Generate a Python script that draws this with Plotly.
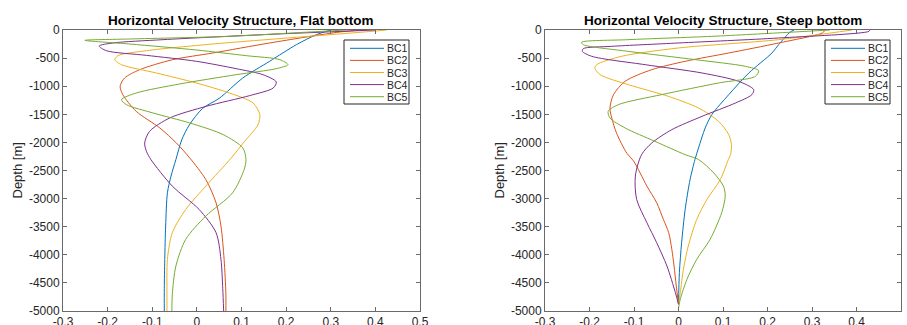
import plotly.graph_objects as go

# ---- mode names, colours, tick labels ----
mode_names = ["BC1", "BC2", "BC3", "BC4", "BC5"]
mode_colors = ["#0072BD", "#D95319", "#EDB120", "#7E2F8E", "#77AC30"]

x_tick_vals = [-0.3, -0.2, -0.1, 0, 0.1, 0.2, 0.3, 0.4, 0.5]
x_tick_text = ["-0.3", "-0.2", "-0.1", "0", "0.1", "0.2", "0.3", "0.4", "0.5"]
y_tick_vals = [0, -500, -1000, -1500, -2000, -2500, -3000, -3500, -4000, -4500, -5000]
y_tick_text = ["0", "-500", "-1000", "-1500", "-2000", "-2500", "-3000", "-3500", "-4000", "-4500", "-5000"]

panel_titles = ["Horizontal Velocity Structure, Flat bottom",
                "Horizontal Velocity Structure, Steep bottom"]

# ---- flat bottom: horizontal velocity u and depth z (m) ----
flat_u1 = [0.30, 0.268, 0.223, 0.163, 0.103, 0.05, 0.013, -0.017, -0.034, -0.047, -0.058, -0.066, -0.070, -0.072, -0.073, -0.073]
flat_z1 = [0, -83, -261, -557, -854, -1216, -1394, -1690, -1957, -2305, -2601, -2897, -3490, -4083, -4600, -5000]

flat_u2 = [0.37, 0.32, 0.163, 0.036, -0.054, -0.128, -0.162, -0.172, -0.166, -0.136, -0.083, -0.046, -0.016, 0.020, 0.043, 0.054, 0.061, 0.065, 0.065]
flat_z2 = [0, -36, -231, -409, -528, -706, -854, -1002, -1150, -1447, -1743, -2010, -2277, -2660, -3074, -3489, -4081, -4700, -5000]

flat_u3 = [0.425, 0.39, 0.223, 0.036, -0.113, -0.177, -0.184, -0.169, -0.091, -0.001, 0.073, 0.126, 0.141, 0.137, 0.107, 0.077, 0.020, -0.025, -0.055, -0.066, -0.067, -0.067]
flat_z3 = [0, -25, -130, -249, -368, -457, -528, -617, -765, -943, -1121, -1299, -1506, -1684, -1981, -2277, -2778, -3193, -3607, -4081, -4700, -5000]

flat_u4 = [0.40, 0.148, -0.076, -0.188, -0.219, -0.203, -0.113, -0.001, 0.088, 0.148, 0.178, 0.171, 0.118, 0.021, -0.061, -0.106, -0.117, -0.113, -0.103, -0.055, 0.005, 0.043, 0.054, 0.058, 0.060]
flat_z4 = [0, -83, -172, -231, -285, -368, -451, -557, -688, -795, -925, -1032, -1168, -1358, -1566, -1803, -2010, -2159, -2305, -2778, -3193, -3607, -4081, -4600, -5000]

flat_u5 = [0.335, 0.22, 0.073, -0.151, -0.251, -0.151, -0.001, 0.111, 0.186, 0.204, 0.178, 0.088, -0.039, -0.136, -0.169, -0.158, -0.098, -0.016, 0.059, 0.103, 0.110, 0.106, 0.080, 0.020, -0.025, -0.047, -0.055, -0.056]
flat_z5 = [0, -50, -113, -160, -184, -249, -356, -457, -528, -617, -688, -795, -961, -1121, -1239, -1328, -1477, -1654, -1862, -2099, -2305, -2482, -2897, -3311, -3725, -4199, -4700, -5000]

# ---- steep bottom: horizontal velocity u and depth z (m) ----
steep_u1 = [0.26, 0.251, 0.225, 0.21, 0.158, 0.113, 0.075, 0.06, 0.045, 0.037, 0.026, 0.015, 0.007, 0.002, 0.0]
steep_z1 = [0, -36, -261, -409, -765, -1150, -1506, -1743, -2099, -2305, -2660, -3193, -3785, -4317, -4880]

steep_u2 = [0.33, 0.323, 0.225, 0.113, 0.015, -0.06, -0.12, -0.146, -0.154, -0.150, -0.139, -0.116, -0.101, -0.071, -0.049, -0.034, -0.022, -0.015, -0.010, -0.005, 0.0]
steep_z2 = [0, -53, -231, -409, -557, -706, -913, -1150, -1388, -1566, -1838, -2194, -2330, -2778, -3074, -3370, -3607, -3903, -4199, -4554, -4880]

steep_u3 = [0.39, 0.225, 0.0, -0.128, -0.184, -0.188, -0.176, -0.113, -0.023, 0.045, 0.09, 0.113, 0.119, 0.117, 0.112, 0.094, 0.064, 0.041, 0.022, 0.011, 0.004, 0.0]
steep_z3 = [0, -172, -320, -468, -617, -676, -795, -972, -1180, -1388, -1625, -1862, -2040, -2218, -2305, -2660, -3015, -3370, -3844, -4258, -4673, -4880]

steep_u4 = [0.43, 0.428, 0.225, 0.0, -0.15, -0.214, -0.216, -0.195, -0.075, 0.053, 0.135, 0.169, 0.165, 0.128, 0.053, -0.015, -0.06, -0.083, -0.097, -0.094, -0.071, -0.049, -0.026, -0.007, 0.0]
steep_z4 = [0, -24, -142, -231, -291, -332, -380, -468, -617, -765, -913, -1061, -1150, -1299, -1536, -1773, -2010, -2218, -2600, -3015, -3429, -3785, -4199, -4673, -4880]

steep_u5 = [0.34, 0.25, 0.075, -0.113, -0.218, -0.214, -0.113, 0.038, 0.150, 0.18, 0.173, 0.09, -0.038, -0.135, -0.158, -0.154, -0.12, -0.053, 0.015, 0.045, 0.079, 0.101, 0.105, 0.097, 0.071, 0.041, 0.019, 0.004, 0.0]
steep_z5 = [0, -40, -113, -172, -219, -261, -380, -528, -646, -723, -824, -943, -1150, -1328, -1447, -1566, -1743, -1981, -2218, -2305, -2541, -2778, -2956, -3252, -3725, -4081, -4436, -4791, -4950]

flat_modes = [(flat_u1, flat_z1), (flat_u2, flat_z2), (flat_u3, flat_z3), (flat_u4, flat_z4), (flat_u5, flat_z5)]
steep_modes = [(steep_u1, steep_z1), (steep_u2, steep_z2), (steep_u3, steep_z3), (steep_u4, steep_z4), (steep_u5, steep_z5)]

# ---- page geometry (pixels) ----
W, H = 907, 325
FONT = "Liberation Sans, Arial, Helvetica, sans-serif"
TEXT_COLOR = "#262626"
AXIS_COLOR = "#6a6a6a"


def px(x):
    return x / W


def py(y):
    return 1 - y / H


# left / right plot boxes: (x0, x1) in pixels, shared vertical extent
boxes = [(63, 420), (545, 901)]
box_top, box_bottom = 30, 311

fig = go.Figure()

for k, modes in enumerate([flat_modes, steep_modes]):
    xa = "x" if k == 0 else "x2"
    ya = "y" if k == 0 else "y2"
    for (u, z), name, color in zip(modes, mode_names, mode_colors):
        fig.add_trace(go.Scatter(
            x=u, y=z, mode="lines", name=name, showlegend=False,
            line=dict(color=color, width=1, shape="spline", smoothing=0.8),
            xaxis=xa, yaxis=ya,
        ))

axis_common = dict(
    showline=True, mirror="ticks", linecolor=AXIS_COLOR, linewidth=1,
    ticks="inside", ticklen=4, tickcolor=AXIS_COLOR, tickwidth=1,
    showgrid=False, zeroline=False,
    tickfont=dict(family=FONT, size=12, color=TEXT_COLOR),
)

layout_axes = {}
for k, (bx0, bx1) in enumerate(boxes):
    sfx = "" if k == 0 else "2"
    layout_axes["xaxis" + sfx] = dict(
        axis_common, domain=[px(bx0), px(bx1)], range=[-0.3, 0.5],
        tickvals=x_tick_vals, ticktext=x_tick_text, anchor="y" + sfx,
    )
    layout_axes["yaxis" + sfx] = dict(
        axis_common, domain=[py(box_bottom), py(box_top)], range=[-5000, 0],
        tickvals=y_tick_vals, ticktext=y_tick_text, anchor="x" + sfx,
    )

annotations = []
shapes = []
for k, (bx0, bx1) in enumerate(boxes):
    # panel title
    annotations.append(dict(
        text=panel_titles[k], xref="paper", yref="paper",
        x=px((bx0 + bx1) / 2), y=py(20), xanchor="center", yanchor="middle",
        showarrow=False, font=dict(family=FONT, size=13.5, color="#000000", weight="bold"),
    ))
    # depth label
    annotations.append(dict(
        text="Depth [m]", xref="paper", yref="paper",
        x=px(bx0 - 46), y=py((box_top + box_bottom) / 2), textangle=-90,
        xanchor="center", yanchor="middle", showarrow=False,
        font=dict(family=FONT, size=13, color=TEXT_COLOR),
    ))
    # legend box
    lx0 = bx1 - 76
    lx1 = bx1 - 11
    ly0, ly1 = 40, 104
    shapes.append(dict(
        type="rect", xref="paper", yref="paper",
        x0=px(lx0), x1=px(lx1), y0=py(ly1), y1=py(ly0),
        line=dict(color="#262626", width=1), fillcolor="white", layer="above",
    ))
    for i, (name, color) in enumerate(zip(mode_names, mode_colors)):
        row_y = 48.3 + i * 12.1
        shapes.append(dict(
            type="line", xref="paper", yref="paper",
            x0=px(lx0 + 6), x1=px(lx0 + 40), y0=py(row_y), y1=py(row_y),
            line=dict(color=color, width=1), layer="above",
        ))
        annotations.append(dict(
            text=name, xref="paper", yref="paper",
            x=px(lx0 + 42), y=py(row_y), xanchor="left", yanchor="middle",
            showarrow=False, borderpad=0,
            font=dict(family=FONT, size=10.5, color=TEXT_COLOR),
        ))

fig.update_layout(
    width=W, height=H,
    margin=dict(l=0, r=0, t=0, b=0, autoexpand=False),
    paper_bgcolor="white", plot_bgcolor="white",
    annotations=annotations, shapes=shapes,
    **layout_axes,
)

fig.write_html("out.html")
